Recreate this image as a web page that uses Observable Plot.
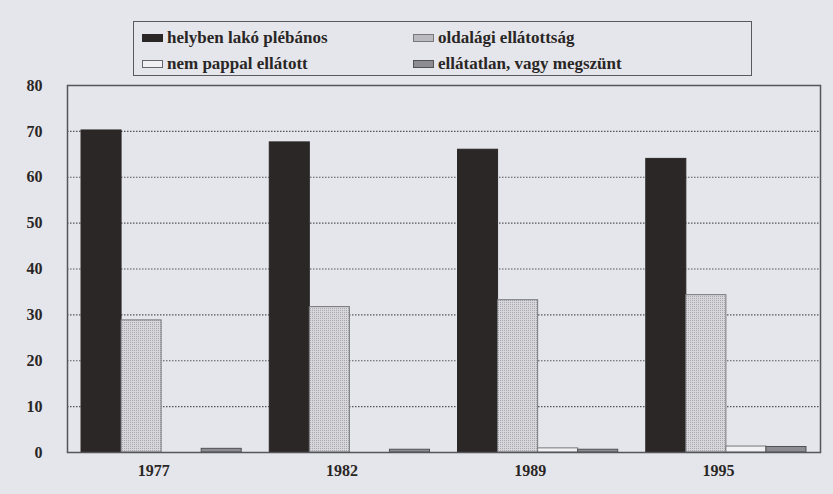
<!DOCTYPE html>
<html>
<head>
<meta charset="utf-8">
<script src="https://cdn.jsdelivr.net/npm/d3@7"></script>
<script src="https://cdn.jsdelivr.net/npm/@observablehq/plot@0.6"></script>
<style>
  html, body { margin: 0; padding: 0; background: #e5e6eb; }
  body { width: 833px; height: 494px; overflow: hidden; font-family: "Times New Roman", Times, "Liberation Serif", serif; }
  #legend {
    position: relative; box-sizing: border-box;
    margin: 21px 0 0 133px; width: 619px; height: 55px;
    border: 1.5px solid #5a5a5e; color: #2a2626;
    font-family: "Times New Roman", Times, "Liberation Serif", serif; font-weight: bold; font-size: 17px;
  }
  .item { position: absolute; display: flex; align-items: center; height: 20px; }
  .sw { width: 21px; height: 8px; box-sizing: border-box; margin-right: 4px; }
  #chart svg { display: block; }
</style>
</head>
<body>
<div id="legend"></div>
<div id="chart"></div>
<script>
const years = ["1977", "1982", "1989", "1995"];
const seriesNames = ["helyben lakó plébános", "oldalági ellátottság", "nem pappal ellátott", "ellátatlan, vagy megszünt"];
const helyben = [70.2, 67.6, 66.0, 64.0];
const oldalagi = [28.8, 31.7, 33.2, 34.3];
const nemPappal = [0, 0, 0.9, 1.3];
const ellatatlan = [0.8, 0.6, 0.6, 1.2];
const yTicks = [0, 10, 20, 30, 40, 50, 60, 70, 80];

const fills = ["#2b2727", "url(#dots)", "#f1f1f3", "#8c8c92"];
const strokes = ["#2b2727", "#77777c", "#77777c", "#505055"];
const swatchCss = ["background:#2b2727;",
  "background:#d4d4d9;border:1px solid #77777c;",
  "background:#f1f1f3;border:1px solid #66666b;",
  "background:#8c8c92;border:1px solid #505055;"];

// Layout of grouped bars (in bar-width units)
const groupStep = 4.7, outerPad = 0.35;
const valuesBySeries = [helyben, oldalagi, nemPappal, ellatatlan];
const data = [];
years.forEach((y, i) => {
  seriesNames.forEach((s, j) => {
    data.push({year: y, series: s, value: valuesBySeries[j][i], x1: i * groupStep + j, x2: i * groupStep + j + 1});
  });
});
const xMax = (years.length - 1) * groupStep + seriesNames.length;

// Legend
const legend = document.getElementById("legend");
const pos = [[8, 6], [279, 6], [8, 32], [279, 32]];
[0, 1, 2, 3].forEach((j, k) => {
  const it = document.createElement("div");
  it.className = "item";
  it.style.left = pos[k][0] + "px";
  it.style.top = pos[k][1] + "px";
  const extra = j === 1 ? "background-image:radial-gradient(#9a9aa0 0.6px, transparent 0.8px);background-size:2px 2px;" : "";
  it.innerHTML = `<span class="sw" style="${swatchCss[j]}${extra}"></span><span>${seriesNames[j]}</span>`;
  legend.appendChild(it);
});

const plot = Plot.plot({
  width: 833,
  height: 418,
  marginLeft: 67,
  marginRight: 13,
  marginTop: 9,
  marginBottom: 42,
  style: {background: "transparent", fontFamily: "'Times New Roman', 'Liberation Serif', serif", fontWeight: "bold", fontSize: "16px", color: "#2a2626"},
  x: {domain: [-outerPad, xMax + outerPad], axis: null},
  y: {domain: [0, 80], axis: null},
  color: {type: "ordinal", domain: seriesNames, range: fills},
  marks: [
    Plot.ruleY(yTicks.filter(t => t > 0 && t < 80), {stroke: "#55555a", strokeWidth: 1.2, strokeDasharray: "1.5,1.5"}),
    Plot.rectY(data, {x1: "x1", x2: "x2", y1: 0, y2: "value", fill: "series",
      stroke: d => strokes[seriesNames.indexOf(d.series)], strokeWidth: 1}),
    Plot.frame({stroke: "#55555a", strokeWidth: 1.5}),
    Plot.axisY(yTicks, {tickSize: 0, tickPadding: 25, label: null, fontWeight: "bold", fontSize: 16, fill: "#2a2626"}),
    Plot.axisX(years.map((y, i) => i * groupStep + seriesNames.length / 2), {
      tickSize: 0, tickPadding: 12, dx: -8, label: null, fontSize: 16, fontWeight: "bold", fill: "#2a2626",
      tickFormat: (d, i) => years[i]
    })
  ]
});

// stipple pattern for "oldalági ellátottság"
const ns = "http://www.w3.org/2000/svg";
const defs = document.createElementNS(ns, "defs");
defs.innerHTML = `<pattern id="dots" width="2" height="2" patternUnits="userSpaceOnUse">
  <rect width="2" height="2" fill="#d6d6db"/>
  <rect width="1" height="1" fill="#a8a8ae"/>
</pattern>`;
plot.insertBefore(defs, plot.firstChild);
document.getElementById("chart").appendChild(plot);
</script>
</body>
</html>
